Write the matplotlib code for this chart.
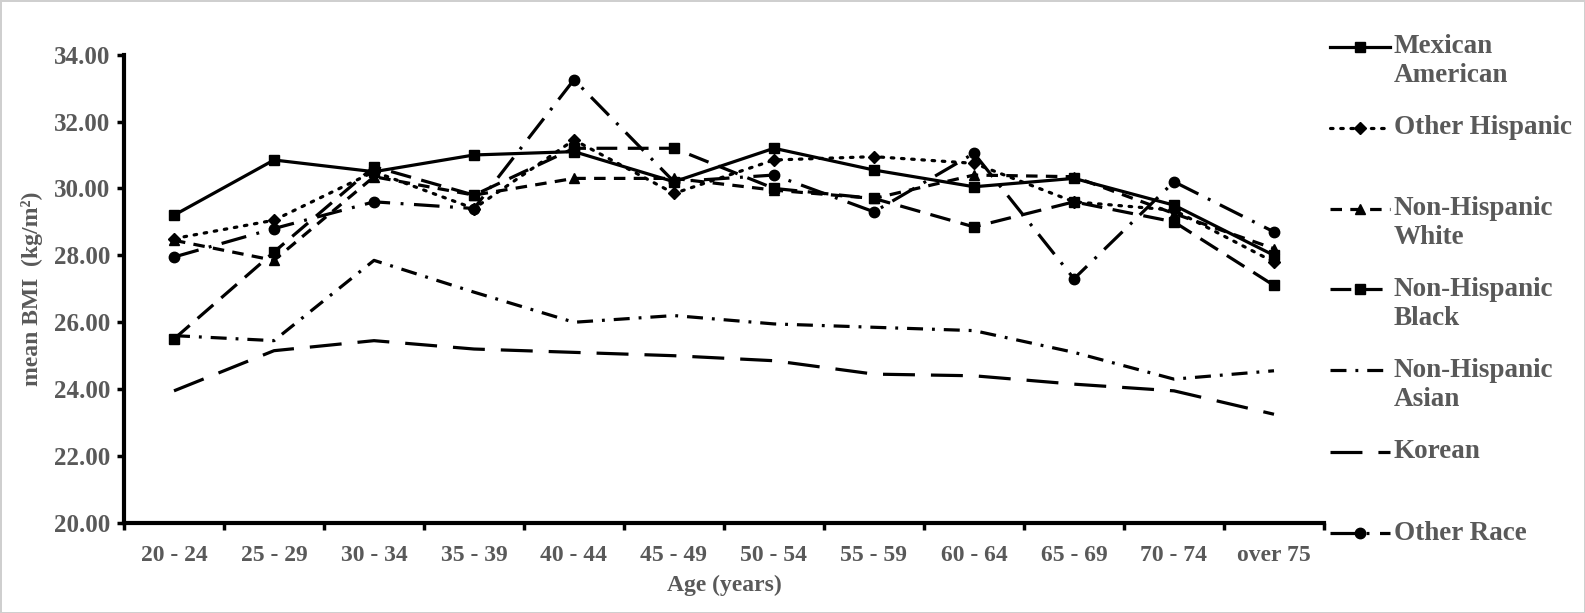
import numpy as np
import matplotlib.pyplot as plt
from matplotlib.lines import Line2D

plt.rcParams['font.family'] = ['Liberation Serif', 'DejaVu Serif']
plt.rcParams['font.weight'] = 'bold'

gray = '#595959'

# 年齢区分
ages = ['20 - 24', '25 - 29', '30 - 34', '35 - 39', '40 - 44', '45 - 49',
        '50 - 54', '55 - 59', '60 - 64', '65 - 69', '70 - 74', 'over 75']

mexican = [29.2, 30.85, 30.5, 31.0, 31.1, 30.2, 31.2, 30.55, 30.05, 30.3, 29.5, 28.0]
other_hisp = [28.5, 29.05, 30.5, 29.4, 31.45, 29.85, 30.85, 30.95, 30.75, 29.6, 29.35, 27.8]
white = [28.45, 27.85, 30.35, 29.8, 30.3, 30.3, 29.95, 29.7, 30.4, 30.35, 29.25, 28.2]
black = [25.5, 28.1, 30.65, 29.8, 31.2, 31.2, 30.0, 29.7, 28.85, 29.6, 29.0, 27.1]
asian = [25.6, 25.45, 27.85, 26.9, 26.0, 26.2, 25.95, 25.85, 25.75, 25.1, 24.3, 24.55]
korean = [23.95, 25.15, 25.45, 25.2, 25.1, 25.0, 24.85, 24.45, 24.4, 24.15, 23.95, 23.25]
other_race = [27.95, 28.8, 29.6, 29.4, 33.25, 30.2, 30.4, 29.3, 31.05, 27.3, 30.2, 28.7]

labels = ['Mexican\nAmerican', 'Other Hispanic', 'Non-Hispanic\nWhite',
          'Non-Hispanic\nBlack', 'Non-Hispanic\nAsian', 'Korean', 'Other Race']

series = [mexican, other_hisp, white, black, asian, korean, other_race]
styles = [
    dict(ls='-', marker='s'),
    dict(ls=(0, (0.8, 2.4)), marker='D', ms=6.5, dash_capstyle='round'),
    dict(ls=(0, (3.6, 2.6)), marker='^'),
    dict(ls=(0, (6.5, 3.3)), marker='s'),
    dict(ls=(0, (5, 2.8, 0.9, 2.8)), marker=None),
    dict(ls=(0, (10, 5)), marker=None),
    dict(ls=(0, (8, 3.3, 0.9, 3.3)), marker='o'),
]

W, H = 1585, 613
fig = plt.figure(figsize=(W / 100, H / 100), dpi=100)
fig.patch.set_edgecolor('#cfcfcf')
fig.patch.set_linewidth(2)
ax = fig.add_axes([124 / W, 1 - 523 / H, 1200 / W, (523 - 54.6) / H])

x = np.arange(len(ages))
for vals, st in zip(series, styles):
    st = dict(st)
    ms = st.pop('ms', 7.5)
    ax.plot(x, vals, color='black', lw=2.3, ms=ms, **st)

ax.set_xlim(-0.5, len(ages) - 0.5)
ax.set_ylim(20, 34)
ax.set_yticks(np.arange(20, 34.1, 2))
ax.set_yticklabels(['%.2f' % v for v in np.arange(20, 34.1, 2)])
ax.set_xticks(x)
ax.set_xticklabels(ages)
ax.set_xticks(np.arange(-0.5, len(ages)), minor=True)
ax.tick_params(axis='x', which='major', length=0, pad=16, labelsize=17, labelcolor=gray)
ax.tick_params(axis='x', which='minor', length=5, width=2.5, direction='out')
ax.tick_params(axis='y', length=5, width=2.5, direction='out', pad=5, labelsize=18, labelcolor=gray)
for s in ['top', 'right']:
    ax.spines[s].set_visible(False)
for s in ['left', 'bottom']:
    ax.spines[s].set_linewidth(3)

ax.set_xlabel('Age (years)', fontsize=17, color=gray, fontweight='bold', labelpad=6)
ax.set_ylabel('mean BMI  (kg/m²)', fontsize=17, color=gray, fontweight='bold', labelpad=8)

# 凡例（右側に手で配置）
ys = [46.5, 127.5, 208.5, 289, 370, 452, 533]
for vals, st, lab, yp in zip(series, styles, labels, ys):
    st = dict(st)
    ms = st.pop('ms', 7.5)
    yf = 1 - yp / H
    ln = Line2D([1330 / W, 1360 / W, 1390 / W], [yf, yf, yf], transform=fig.transFigure,
                color='black', lw=2.3, ms=ms, markevery=[1], **st)
    fig.add_artist(ln)
    fig.text(1394 / W, yf, lab, fontsize=19.5, color=gray, va='top', ha='left',
             linespacing=1.2, transform=fig.transFigure)

# テキスト1行目の中心をハンドルの高さに合わせる
fig.canvas.draw()
r = fig.canvas.get_renderer()
for t in fig.texts:
    bb = t.get_window_extent(r)
    n = t.get_text().count('\n') + 1
    h = bb.height / (1 + 1.2 * (n - 1))
    t.set_y(t.get_position()[1] + 0.5 * h / H)

fig.savefig('out.png', dpi=100)
